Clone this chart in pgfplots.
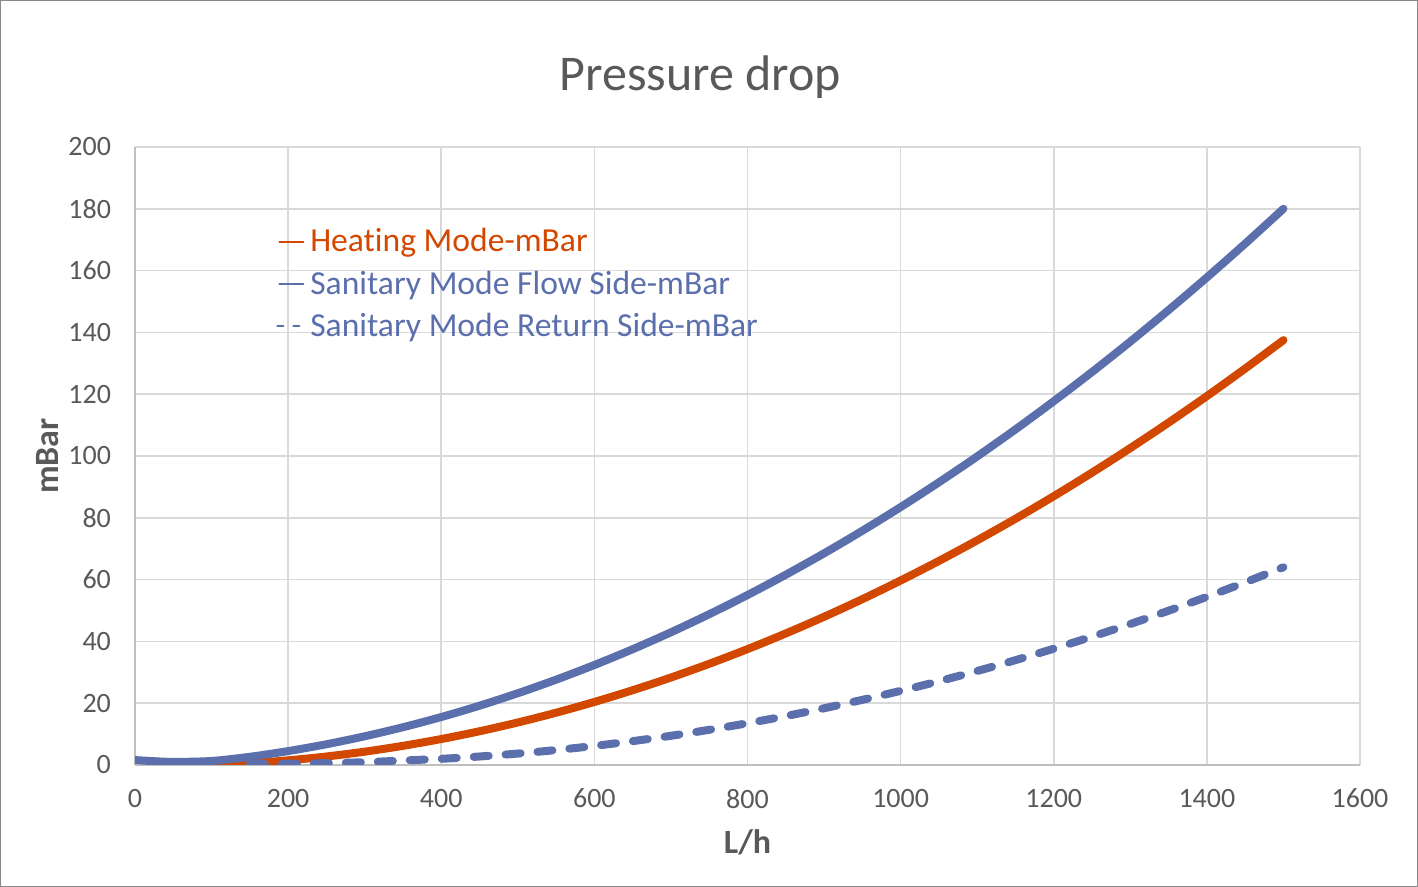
\documentclass[border=0pt]{standalone}
\usepackage{pgfplots}
\pgfplotsset{compat=1.18}
\usepackage{pgfplotstable}
\usepackage{fontspec}
\setmainfont{Carlito}[Ligatures=NoCommon]
\definecolor{heat}{RGB}{211,72,0}
\definecolor{san}{RGB}{91,111,173}
\definecolor{txt}{RGB}{89,89,89}
\definecolor{gridc}{RGB}{217,217,217}
\definecolor{axc}{RGB}{191,191,191}
\definecolor{framec}{RGB}{136,136,136}

\pgfplotstableread{
x y
100 -0.04
150 0.57
200 1.50
250 2.75
300 4.31
350 6.20
400 8.40
450 10.92
500 13.76
550 16.92
600 20.40
650 24.20
700 28.31
750 32.75
800 37.50
850 42.57
900 47.96
950 53.67
1000 59.70
1050 66.04
1100 72.71
1150 79.69
1200 86.99
1250 94.62
1300 102.56
1350 110.81
1400 119.39
1450 128.29
1500 137.50
}\heating

\pgfplotstableread{
x y
0 1.6
20 1.3
50 1.0
100 1.3
150 2.65
200 4.50
250 6.71
300 9.29
350 12.22
400 15.52
450 19.19
500 23.22
550 27.61
600 32.36
650 37.47
700 42.95
750 48.80
800 55.00
850 61.57
900 68.50
950 75.80
1000 83.46
1050 91.48
1100 99.86
1150 108.61
1200 117.72
1250 127.19
1300 137.03
1350 147.23
1400 157.79
1450 168.72
1500 180.02
}\flow

\pgfplotstableread{
x y
150 0.3
200 0.4
250 0.6
300 0.9
350 1.45
400 2.00
450 2.75
500 3.70
550 4.84
600 6.18
650 7.72
700 9.45
750 11.39
800 13.52
850 15.84
900 18.36
950 21.08
1000 24.00
1050 27.11
1100 30.42
1150 33.93
1200 37.64
1250 41.54
1300 45.64
1350 49.93
1400 54.42
1450 59.11
1500 64.00
}\ret

\begin{document}
\begin{tikzpicture}
\draw[framec, line width=0.6pt] (0.3pt,0.3pt) rectangle (708.7pt,443.2pt);
\begin{axis}[
  at={(67.5pt,61pt)}, anchor=south west,
  scale only axis, width=612.5pt, height=309pt,
  xmin=0, xmax=1600, ymin=0, ymax=200,
  xtick={0,200,...,1600}, ytick={0,20,...,200},
  axis lines*=left,
  axis line style={axc, line width=0.9pt, -},
  grid=major,
  major grid style={gridc, line width=0.8pt},
  major tick length=0pt,
  tick label style={font=\fontsize{14}{16}\selectfont, text=txt},
  /pgf/number format/assume math mode=true,
  /pgf/number format/set thousands separator={},
  xticklabel style={yshift=-8.5pt},
  yticklabel style={xshift=-8.5pt},
  xlabel={\textbf{L/h}},
  ylabel={\textbf{mBar}},
  label style={font=\fontsize{17}{19}\selectfont, text=txt},
  xlabel style={yshift=-4pt},
  ylabel style={yshift=-2pt},
  title={Pressure drop},
  title style={font=\fontsize{25}{28}\selectfont, text=txt, at={(0.5,1)}, anchor=base, xshift=-23.5pt, yshift=22pt},
  legend style={at={(0.115,0.877)}, anchor=north west, draw=none, fill=none,
    font=\fontsize{16.8}{19}\selectfont, row sep=3pt, inner sep=0pt,
    nodes={inner xsep=3pt, inner ysep=2.5pt}},
  legend cell align=left,
  clip=true,
]
\addplot[heat, line width=4pt, line cap=round, line join=round, smooth,
  legend image code/.code={\draw[heat, line width=1pt] (0pt,0pt) -- (12pt,0pt);}]
  table[x=x,y=y] {\heating};
\addlegendentry{\textcolor{heat}{Heating Mode-mBar}}
\addplot[san, line width=4pt, line cap=round, line join=round, smooth,
  legend image code/.code={\draw[san, line width=1pt] (0pt,0pt) -- (12pt,0pt);}]
  table[x=x,y=y] {\flow};
\addlegendentry{\textcolor{san}{Sanitary Mode Flow Side-mBar}}
\addplot[san, line width=4pt, line cap=round, line join=round, smooth,
  dash pattern=on 7.5pt off 8.5pt,
  legend image code/.code={\draw[san, line width=1pt, dash pattern=on 3pt off 5pt] (-1pt,0pt) -- (11pt,0pt);}]
  table[x=x,y=y] {\ret};
\addlegendentry{\textcolor{san}{Sanitary Mode Return Side-mBar}}
\end{axis}
\end{tikzpicture}
\end{document}
